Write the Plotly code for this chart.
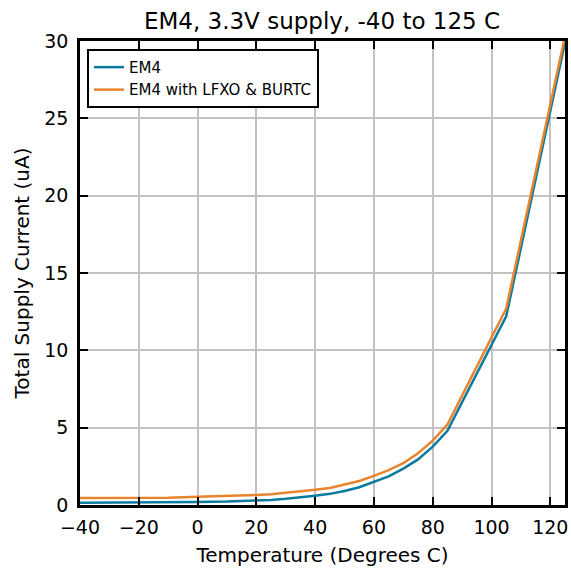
import plotly.graph_objects as go

temps = [-40, -30, -20, -10, 0, 10, 20, 25, 30, 35, 40, 45, 50, 55, 60, 65, 70, 75, 80, 85, 105, 125]
em4 = [0.15, 0.15, 0.15, 0.16, 0.19, 0.22, 0.28, 0.33, 0.40, 0.48, 0.60, 0.72, 0.90, 1.15, 1.50, 1.85, 2.35, 2.95, 3.77, 4.80, 12.2, 29.9]
em4_lfxo = [0.45, 0.45, 0.46, 0.47, 0.53, 0.57, 0.65, 0.70, 0.78, 0.87, 0.98, 1.10, 1.30, 1.55, 1.88, 2.25, 2.70, 3.35, 4.16, 5.20, 12.7, 30.3]

series_names = ["EM4", "EM4 with LFXO & BURTC"]
colors = ["#0a7b9e", "#e8842d"]
x_ticks = [-40, -20, 0, 20, 40, 60, 80, 100, 120]
y_ticks = [0, 5, 10, 15, 20, 25, 30]

FONT = "DejaVu Sans"
W, H = 571, 572

fig = go.Figure()
for name, ys, c in zip(series_names, [em4, em4_lfxo], colors):
    fig.add_trace(go.Scatter(x=temps, y=ys, mode="lines", name=name,
                             line=dict(color=c, width=2.5)))

axis_common = dict(
    showline=True, linecolor="black", linewidth=2.5, mirror="ticks",
    ticks="inside", ticklen=8, tickwidth=1.5, tickcolor="black",
    showgrid=True, gridcolor="#c2c2c2", gridwidth=2,
    zeroline=False, automargin=False,
    tickfont=dict(family=FONT, size=19, color="black"),
)

fig.update_layout(
    width=W, height=H,
    margin=dict(l=80, r=6, t=41, b=67),
    paper_bgcolor="white", plot_bgcolor="white",
    font=dict(family=FONT, color="black"),
    title=dict(text="EM4, 3.3V supply, -40 to 125 C", x=322 / W, xanchor="center",
               y=1 - 21 / H, yanchor="middle",
               font=dict(family=FONT, size=23, color="black")),
    xaxis=dict(range=[-40, 125], tickvals=x_ticks, ticklabelstandoff=3,
               title=dict(text="Temperature (Degrees C)", font=dict(family=FONT, size=20), standoff=12),
               **axis_common),
    yaxis=dict(range=[0, 30], tickvals=y_ticks, ticklabelstandoff=5,
               title=dict(text="Total Supply Current (uA)", font=dict(family=FONT, size=20), standoff=10),
               **axis_common),
    legend=dict(x=0.0144, y=0.983, xanchor="left", yanchor="top",
                bordercolor="black", borderwidth=2, bgcolor="white",
                font=dict(family=FONT, size=15, color="black"),
                itemwidth=30, tracegroupgap=0),
    showlegend=True,
)

fig.write_html("out.html",
               config={"displayModeBar": False},
               post_script="document.body.style.margin='0px';document.body.style.overflow='hidden';")
